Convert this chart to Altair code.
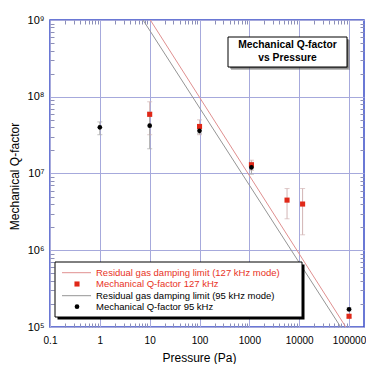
import json
import altair as alt
import pandas as pd

# ---------------- data ----------------
p95 = [1, 10, 100, 1100, 100000]
q95 = [4.0e7, 4.2e7, 3.6e7, 1.2e7, 1.7e5]
lo95 = [3.2e7, 2.1e7, 3.3e7, 9.8e6, 1.62e5]
hi95 = [4.7e7, 6.3e7, 3.9e7, 1.4e7, 1.78e5]

p127 = [10, 100, 1100, 5700, 11700, 100000]
q127 = [5.9e7, 4.1e7, 1.3e7, 4.5e6, 4.0e6, 1.38e5]
lo127 = [3.2e7, 3.2e7, 1.1e7, 2.57e6, 1.59e6, 1.32e5]
hi127 = [8.6e7, 5.0e7, 1.49e7, 6.37e6, 6.37e6, 1.44e5]

limit127_p = [10.3, 86000]
limit127_q = [1e9, 1e5]
limit95_p = [7.35, 68000]
limit95_q = [1e9, 1e5]

x_ticks = [0.1, 1, 10, 100, 1000, 10000, 100000]
x_labels = ["0.1", "1", "10", "100", "1000", "10000", "100000"]
y_ticks = [1e5, 1e6, 1e7, 1e8, 1e9]
y_labels = ["10\u2075", "10\u2076", "10\u2077", "10\u2078", "10\u2079"]

legend_labels = [
    "Residual gas damping limit (127 kHz mode)",
    "Mechanical Q-factor 127 kHz",
    "Residual gas damping limit (95 kHz mode)",
    "Mechanical Q-factor 95 kHz",
]
title_lines = ["Mechanical Q-factor", "vs Pressure"]
x_title = "Pressure (Pa)"
y_title = "Mechanical Q-factor"

# ---------------- styling ----------------
FONT = "Liberation Sans"
RED = "#e8321e"
RED_LINE = "#e09090"
GRAY_LINE = "#959595"
GRID = "#a6a9dc"
FRAME = "#3a4cc8"
MINOR = "#8c8fb8"

W, H = 314, 307

x_minor = [k * 10.0 ** n for n in range(-1, 6) for k in range(2, 10) if k * 10.0 ** n < 199526]
y_minor = [k * 10.0 ** n for n in range(5, 9) for k in range(2, 10)]

xs = alt.Scale(type="log", domain=[0.1, 199526], nice=False)
ys = alt.Scale(type="log", domain=[1e5, 1e9], nice=False)

lim127 = pd.DataFrame({"P": limit127_p, "Q": limit127_q})
lim95 = pd.DataFrame({"P": limit95_p, "Q": limit95_q})
d95 = pd.DataFrame({"P": p95, "Q": q95, "lo": lo95, "hi": hi95})
d127 = pd.DataFrame({"P": p127, "Q": q127, "lo": lo127, "hi": hi127})

x_label_expr = "%s[indexof(%s, datum.value)]" % (json.dumps(x_labels), json.dumps(x_ticks))
y_label_expr = "%s[indexof(%s, datum.value)]" % (json.dumps(y_labels, ensure_ascii=False), json.dumps(y_ticks))

main_x_axis = alt.Axis(
    values=x_ticks, labelExpr=x_label_expr, grid=True, gridColor=GRID, gridWidth=1,
    ticks=False, tickSize=0, domain=False, labelFont=FONT, labelFontSize=10,
    labelColor="black", labelPadding=8, labelFlush=False, labelOverlap=False,
    title=x_title, titleFont=FONT, titleFontSize=12, titleFontWeight="normal",
    titleColor="black", titleX=149, titleY=30.5, titleBaseline="middle",
)
main_y_axis = alt.Axis(
    values=y_ticks, labelExpr=y_label_expr, grid=True, gridColor=GRID, gridWidth=1,
    ticks=False, tickSize=0, domain=False, labelFont=FONT, labelFontSize=11,
    labelColor="black", labelPadding=6, labelFlush=False, labelOverlap=False,
    title=y_title, titleFont=FONT, titleFontSize=12, titleFontWeight="normal",
    titleColor="black", titleX=-36, titleY=156, titleBaseline="middle", titleAngle=270,
)


def minor_axis(orient, vals):
    return alt.Axis(orient=orient, values=vals, grid=False, domain=False, labels=False,
                    ticks=True, tickSize=4, tickColor=MINOR, tickWidth=1, offset=-4, title="")


layers = []

# main axes + red limit line
layers.append(alt.Chart(lim127).mark_line(color=RED_LINE, strokeWidth=1, clip=True).encode(
    x=alt.X("P:Q", scale=xs, axis=main_x_axis),
    y=alt.Y("Q:Q", scale=ys, axis=main_y_axis),
))
# minor tick axes
for orient in ["bottom", "top"]:
    layers.append(alt.Chart(lim127).mark_line(opacity=0).encode(
        x=alt.X("P:Q", scale=xs, axis=minor_axis(orient, x_minor)),
        y=alt.Y("Q:Q", scale=ys, axis=None),
    ))
for orient in ["left", "right"]:
    layers.append(alt.Chart(lim127).mark_line(opacity=0).encode(
        x=alt.X("P:Q", scale=xs, axis=None),
        y=alt.Y("Q:Q", scale=ys, axis=minor_axis(orient, y_minor)),
    ))

# gray limit line
layers.append(alt.Chart(lim95).mark_line(color=GRAY_LINE, strokeWidth=1, clip=True).encode(
    x=alt.X("P:Q", scale=xs, axis=None), y=alt.Y("Q:Q", scale=ys, axis=None)))

# error bars
for d, col in [(d127, "#d2b4b4"), (d95, "#a8a8a8")]:
    layers.append(alt.Chart(d).mark_rule(color=col, strokeWidth=1).encode(
        x=alt.X("P:Q", scale=xs, axis=None),
        y=alt.Y("lo:Q", scale=ys, axis=None), y2="hi:Q"))
    for f in ["lo", "hi"]:
        layers.append(alt.Chart(d).mark_tick(color=col, orient="horizontal", size=5, thickness=1).encode(
            x=alt.X("P:Q", scale=xs, axis=None),
            y=alt.Y(f + ":Q", scale=ys, axis=None)))

# points
layers.append(alt.Chart(d127).mark_point(shape="square", filled=True, size=26, color="#e02818", opacity=1).encode(
    x=alt.X("P:Q", scale=xs, axis=None), y=alt.Y("Q:Q", scale=ys, axis=None)))
layers.append(alt.Chart(d95).mark_point(shape="circle", filled=True, size=22, color="black", opacity=1).encode(
    x=alt.X("P:Q", scale=xs, axis=None), y=alt.Y("Q:Q", scale=ys, axis=None)))

one = alt.Data(values=[{}])


def rect(x1, x2, y1, y2, **kw):
    return alt.Chart(one).mark_rect(**kw).encode(
        x=alt.value(x1), x2=alt.value(x2), y=alt.value(y1), y2=alt.value(y2))


# legend box
layers.append(rect(7.5, 254.5, 244.5, 299.5, color="black"))
layers.append(rect(5, 252, 242, 297, fill="white", stroke="black", strokeWidth=1))
leg_y = [252.7, 264, 275.7, 286.7]
leg_col = [RED, RED, "black", "black"]
layers.append(alt.Chart(one).mark_rule(color=RED_LINE, strokeWidth=1).encode(
    x=alt.value(12), x2=alt.value(41), y=alt.value(leg_y[0])))
layers.append(alt.Chart(one).mark_rule(color=GRAY_LINE, strokeWidth=1).encode(
    x=alt.value(12), x2=alt.value(41), y=alt.value(leg_y[2])))
layers.append(alt.Chart(one).mark_point(shape="square", filled=True, size=26, color="#e02818", opacity=1).encode(
    x=alt.value(27), y=alt.value(leg_y[1])))
layers.append(alt.Chart(one).mark_point(shape="circle", filled=True, size=22, color="black", opacity=1).encode(
    x=alt.value(27), y=alt.value(leg_y[3])))
for lab, yy, c in zip(legend_labels, leg_y, leg_col):
    layers.append(alt.Chart(one).mark_text(text=lab, font=FONT, fontSize=9.5, color=c,
                                           align="left", baseline="middle").encode(
        x=alt.value(46), y=alt.value(yy)))

# title box
layers.append(rect(181, 300, 20, 50, color="#777777", opacity=0.5))
layers.append(rect(180, 298.5, 19, 48.5, color="#333333", opacity=0.6))
layers.append(rect(178, 297, 17, 47, fill="white", stroke="black", strokeWidth=1))
for lab, yy in zip(title_lines, [25.3, 37.5]):
    layers.append(alt.Chart(one).mark_text(text=lab, font=FONT, fontSize=10.3, fontWeight="bold",
                                           color="black", align="center", baseline="middle").encode(
        x=alt.value(237.5), y=alt.value(yy)))

chart = alt.layer(*layers).resolve_axis(x="independent", y="independent").properties(
    width=W, height=H,
    autosize=alt.AutoSizeParams(type="none"),
    padding={"left": 42, "top": 12, "right": 2, "bottom": 37},
    background="white",
).configure_view(stroke=FRAME, strokeWidth=1.5)

chart.save("out.html", embed_options={"renderer": "svg", "actions": False})
